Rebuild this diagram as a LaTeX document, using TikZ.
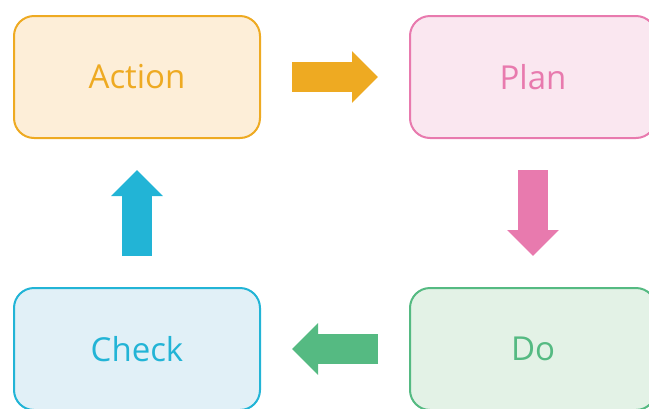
\documentclass[tikz,border=0pt]{standalone}
\usepackage{fontspec}
\setmainfont{Open Sans}
\usepackage{tikz}
\usetikzlibrary{arrows.meta, positioning}
\definecolor{act}{RGB}{238,170,34}
\definecolor{actbg}{RGB}{253,238,216}
\definecolor{pln}{RGB}{232,122,174}
\definecolor{plnbg}{RGB}{250,231,240}
\definecolor{chk}{RGB}{34,180,214}
\definecolor{chkbg}{RGB}{225,240,247}
\definecolor{dooo}{RGB}{85,186,130}
\definecolor{doobg}{RGB}{227,242,230}

\begin{document}
\begin{tikzpicture}[
  x=1pt, y=-1pt,
  stage/.style={rectangle, rounded corners=20pt, line width=2pt, minimum width=246pt, minimum height=122pt, inner sep=0, font=\fontsize{33}{40}\selectfont},
  blockarr/.style={line width=30pt, -{Triangle[length=26pt, width=50pt]}, shorten <=31pt, shorten >=31pt},
]
\useasboundingbox (0,0) rectangle (649,408);

% Stages
\node[stage, draw=act, fill=actbg, text=act] (action) at (137,77) {Action};
\node[stage, draw=pln, fill=plnbg, text=pln] (plan) at (533,77) {Plan};
\node[stage, draw=dooo, fill=doobg, text=dooo] (do) at (533,349) {Do};
\node[stage, draw=chk, fill=chkbg, text=chk] (check) at (137,349) {Check};

% Cycle arrows
\draw[blockarr, act]  (action.east) -- (plan.west);
\draw[blockarr, pln]  (plan.south) -- (do.north);
\draw[blockarr, dooo] (do.west) -- (check.east);
\draw[blockarr, chk]  (check.north) -- (action.south);

\end{tikzpicture}
\end{document}
